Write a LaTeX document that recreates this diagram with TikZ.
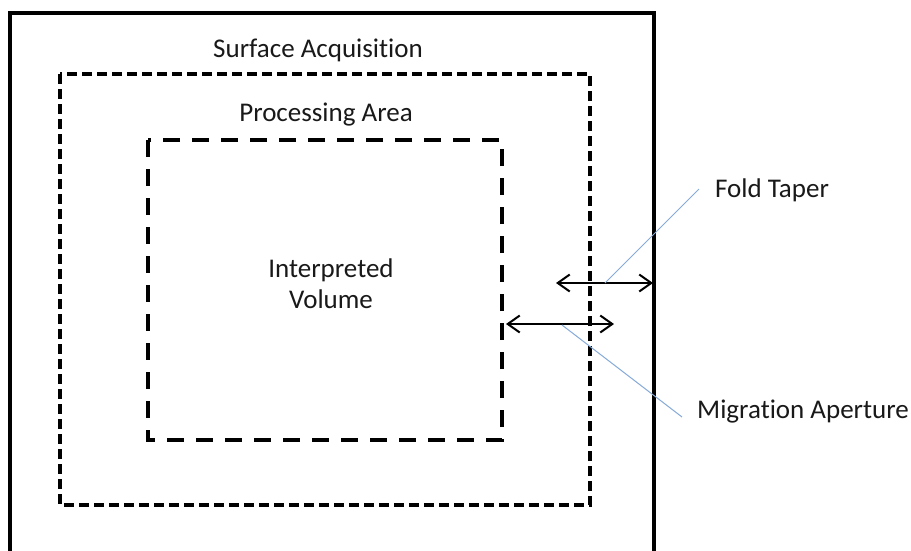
\documentclass[tikz,border=0pt]{standalone}
\usepackage{fontspec}
\setmainfont{Carlito}[Ligatures={NoCommon}]
\usetikzlibrary{arrows.meta}
\definecolor{lblue}{HTML}{86AADA}
\tikzset{
  outerbox/.style={line width=3.2pt, black},
  midbox/.style={line width=3.2pt, dash pattern=on 10pt off 5pt},
  innerbox/.style={line width=3.2pt, dash pattern=on 17pt off 12pt},
  dimarrow/.style={line width=2pt, {Straight Barb[length=12pt,width=17pt,line width=2pt]}-{Straight Barb[length=12pt,width=17pt,line width=2pt]}},
  leader/.style={lblue, line width=1pt},
  lbl/.style={font=\fontsize{27}{31}\selectfont, text=black!90, inner sep=0pt, align=center}
}
\begin{document}
\begin{tikzpicture}[x=1pt,y=-1pt]
\useasboundingbox (0,0) rectangle (911,550);
\fill[white] (0,0) rectangle (911,550);
\begin{scope}
\clip (0,0) rectangle (911,550);
\draw[outerbox] (10,570) -- (10,13) -- (654,13) -- (654,570);
\end{scope}
\draw[midbox] (60,74) rectangle (590,505);
\draw[innerbox] (148,140) rectangle (502,440);
\node[lbl] (sa) at (318,50) {Surface Acquisition};
\node[lbl] (pa) at (326,115) {Processing Area};
\node[lbl] (iv) at (331,284) {Interpreted\\Volume};
\node[lbl, anchor=west] (ft) at (715,190) {Fold Taper};
\node[lbl, anchor=west] (ma) at (697,412) {Migration Aperture};
\coordinate (fa1) at (556,283);
\coordinate (fa2) at (653,283);
\coordinate (ma1) at (506,324);
\coordinate (ma2) at (614,324);
\coordinate (ftl) at (699,189);
\coordinate (ftr) at (605,283);
\coordinate (mal) at (562,325);
\coordinate (mar) at (682,417);
\draw[dimarrow] (fa1) -- (fa2);
\draw[dimarrow] (ma1) -- (ma2);
\draw[leader] (ftr) -- (ftl);
\draw[leader] (mal) -- (mar);
\end{tikzpicture}
\end{document}
